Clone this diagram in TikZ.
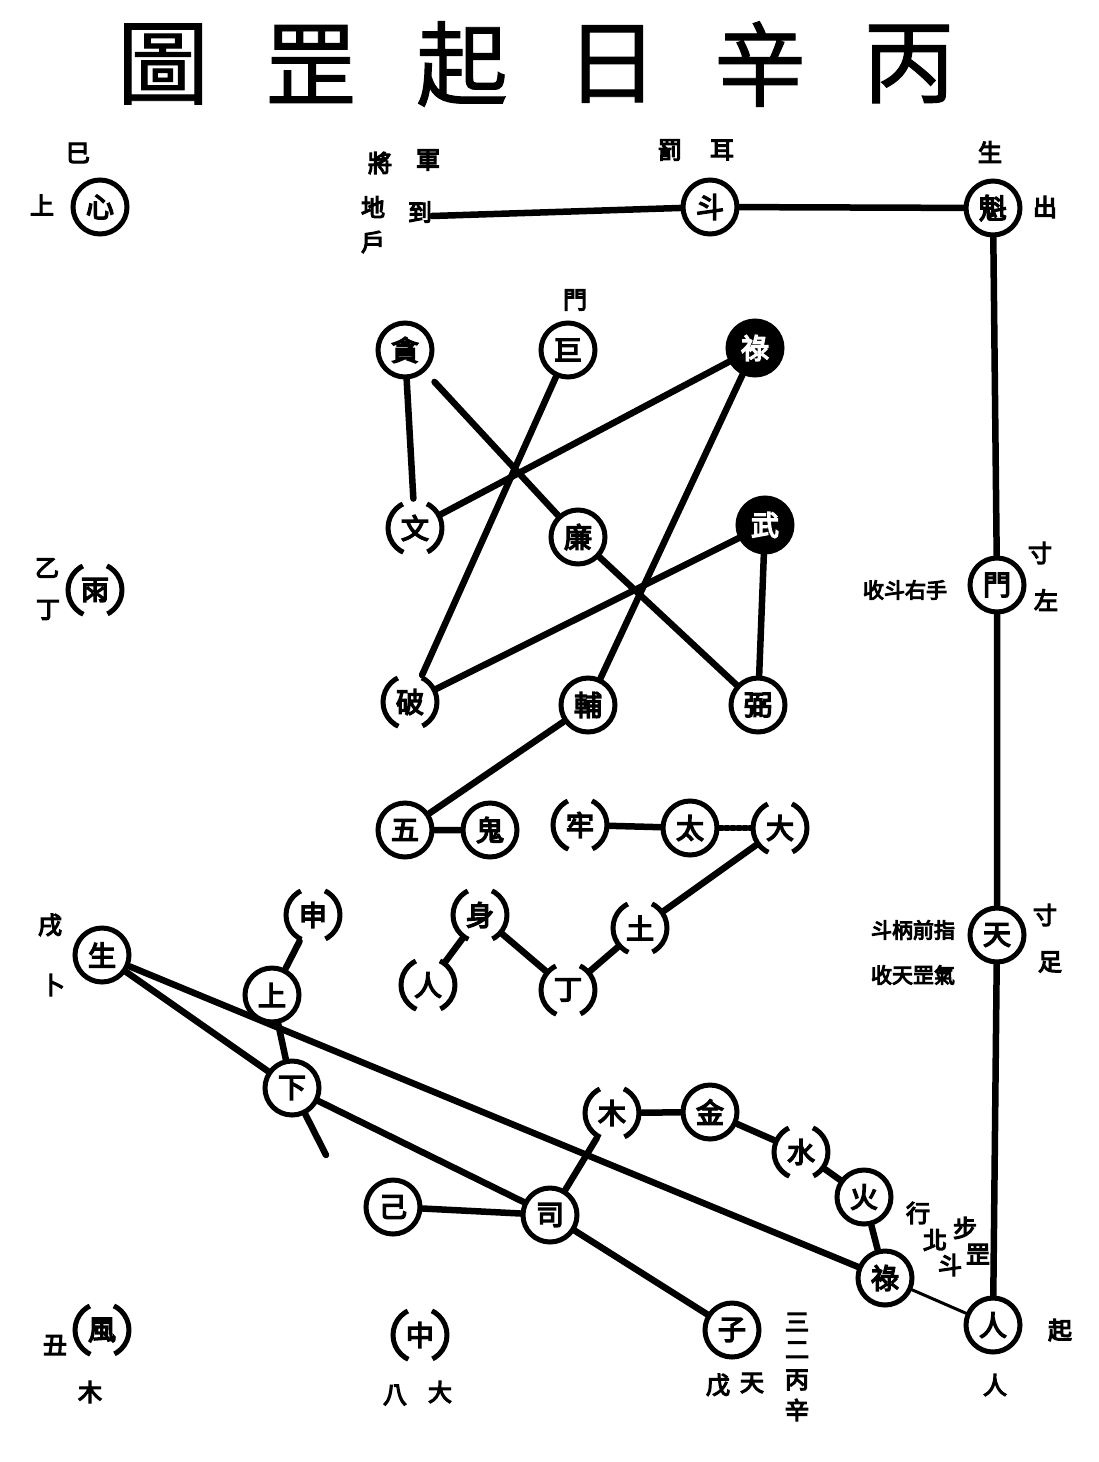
\documentclass[tikz,border=0pt]{standalone}
\usepackage{fontspec}
\newfontfamily\cjk[FakeBold=1]{Noto Sans CJK TC}
\newfontfamily\cjkbold[FakeBold=5]{Noto Sans CJK TC}
\tikzset{
  star/.style={circle, draw, line width=5pt, minimum size=54pt, inner sep=0pt,
    font=\cjkbold\fontsize{28}{28}\selectfont},
  brk/.style={star, dash pattern=on 60pt off 25pt, dash phase=30pt},
  dark/.style={star, fill=black, text=white},
  link/.style={line width=6.5pt, line cap=round},
  thinlink/.style={line width=3pt, line cap=round},
  tag/.style={inner sep=0pt, font=\cjkbold\fontsize{24}{24}\selectfont},
}
\begin{document}
\begin{tikzpicture}[x=1pt,y=-1pt]
\useasboundingbox (0,0) rectangle (1098,1462);

% Title
\foreach \ch/\xc in {圖/163, 罡/311, 起/462, 日/612, 辛/760, 丙/909}
  \node[font=\cjk\fontsize{92}{92}\selectfont] (title\xc) at (\xc,64) {\ch};

% Corner stars
\node[star] (a1) at (100,207) {心};
\node[tag] (a1top) at (78,153) {巳};
\node[tag] (a1lft) at (42,205) {上};
\node[brk] (e1) at (95,590) {雨};
\node[tag] (e1top) at (47,568) {乙};
\node[tag] (e1bot) at (48,610) {丁};
\node[brk] (d1) at (102,1330) {風};
\node[tag] (d1lft) at (55,1345) {丑};
\node[tag] (d1bot) at (90,1392) {木};
\node[brk] (d2) at (420,1335) {中};
\node[tag] (d2a) at (395,1395) {八};
\node[tag] (d2b) at (440,1392) {大};

% Top row and right column
\node[star] (t1) at (710,207) {斗};
\node[star] (t2) at (993,208) {魁};
\node[star] (r1) at (997,585) {門};
\node[star] (r2) at (997,935) {天};
\node[star] (r3) at (993,1325) {人};
\coordinate (tl) at (432,216);
\draw[link] (tl) -- (t1) -- (t2);
\draw[link] (t2) -- (r1) -- (r2) -- (r3);

% Labels round the top row
\foreach \ch/\xc/\yc in {將/380/163, 地/373/207, 戶/373/242, 軍/428/160, 到/420/212}
  \node[tag] at (\xc,\yc) {\ch};
\node[tag] (t1a) at (670,150) {罰};
\node[tag] (t1b) at (722,150) {耳};
\node[tag] (t2a) at (990,152) {生};
\node[tag] (t2b) at (1045,207) {出};

% Labels round the right column
\node[tag, font=\cjkbold\fontsize{21}{21}\selectfont] (r1lft) at (905,590) {收斗右手};
\node[tag] (r1a) at (1040,553) {寸};
\node[tag] (r1b) at (1046,600) {左};
\node[tag, font=\cjkbold\fontsize{21}{21}\selectfont] (r2lft) at (913,930) {斗柄前指};
\node[tag, font=\cjkbold\fontsize{21}{21}\selectfont] (r2lft2) at (913,975) {收天罡氣};
\node[tag] (r2a) at (1045,915) {寸};
\node[tag] (r2b) at (1050,962) {足};
\node[tag] (r3a) at (1060,1330) {起};
\node[tag] (r3b) at (995,1385) {人};

% Nine stars, crossed
\node[star] (m1) at (405,350) {貪};
\node[star] (m2) at (568,350) {巨};
\node[tag] (m2top) at (575,300) {門};
\node[dark] (m3) at (755,348) {祿};
\node[brk] (m4) at (415,528) {文};
\node[star] (m5) at (578,537) {廉};
\node[dark] (m6) at (765,525) {武};
\node[brk] (m7) at (410,702) {破};
\node[star] (m8) at (588,705) {輔};
\node[star] (m9) at (758,705) {弼};
\draw[link] (m1) -- (m4);
\draw[link, shorten <=14pt] (m1) -- (m5);
\draw[link] (m5) -- (m9);
\draw[link] (m2) -- (m7);
\draw[link] (m3) -- (m4);
\draw[link] (m3) -- (m8);
\draw[link] (m6) -- (m7);
\draw[link] (m6) -- (m9);

% Middle chains
\node[star] (b1) at (405,830) {五};
\node[star] (b2) at (490,830) {鬼};
\node[brk] (b3) at (580,825) {牢};
\node[star] (b4) at (690,828) {太};
\node[brk] (b5) at (780,828) {大};
\node[brk] (b6) at (640,928) {土};
\node[brk] (b7) at (568,990) {丁};
\node[brk] (b8) at (480,915) {身};
\node[brk] (b9) at (428,985) {人};
\draw[link] (m8) -- (b1) -- (b2);
\draw[link] (b3) -- (b4);
\draw[link, dashed] (b4) -- (b5);
\draw[link] (b5) -- (b6) -- (b7) -- (b8) -- (b9);

% Lower left group
\node[star] (l1) at (102,955) {生};
\node[tag] (l1a) at (50,925) {戌};
\node[tag] (l1b) at (53,985) {卜};
\node[brk] (l2) at (313,915) {申};
\node[star] (l3) at (272,995) {上};
\node[star] (l4) at (292,1088) {下};
\coordinate (tail) at (326,1155);
\draw[link] (l2) -- (l3) -- (l4) -- (tail);

% Lower chain of seven
\node[star] (p0) at (393,1207) {己};
\node[star] (p1) at (550,1215) {司};
\node[star] (p2) at (732,1330) {子};
\node[brk] (q1) at (612,1113) {木};
\node[star] (q2) at (710,1112) {金};
\node[brk] (q3) at (801,1152) {水};
\node[star] (q4) at (864,1197) {火};
\node[star] (n5) at (885,1278) {祿};
\draw[link] (l1) -- (l4) -- (p1) -- (p2);
\draw[link] (l1) -- (n5);
\draw[link] (p0) -- (p1);
\draw[link] (q1) -- (p1);
\draw[link] (q1) -- (q2) -- (q3) -- (q4) -- (n5);
\draw[thinlink] (n5) -- (r3);

% Labels round the lower chain
\foreach \ch/\xc/\yc in {三/797/1322, 二/797/1350, 丙/797/1380, 辛/797/1410}
  \node[tag] at (\xc,\yc) {\ch};
\node[tag] (p2a) at (718,1385) {戊};
\node[tag] (p2b) at (752,1383) {天};
\foreach \ch/\xc/\yc in {行/918/1213, 北/935/1240, 斗/950/1265, 步/965/1228, 罡/978/1254}
  \node[tag] at (\xc,\yc) {\ch};
\end{tikzpicture}
\end{document}
